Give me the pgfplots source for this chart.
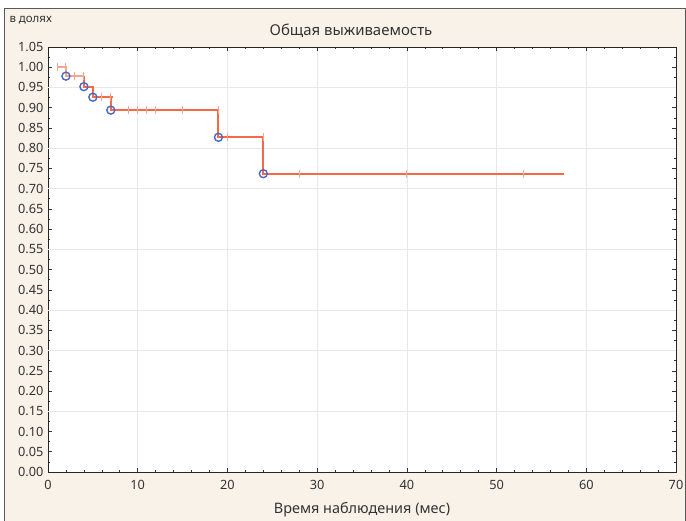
\documentclass[border=0pt]{standalone}
\usepackage{fontspec}
\setmainfont{Noto Sans}
\usepackage{pgfplots}
\pgfplotsset{compat=1.18}
\definecolor{bg}{HTML}{F8F2E9}
\definecolor{km}{HTML}{F26A47}
\definecolor{kmlight}{HTML}{F8A58C}
\definecolor{ev}{HTML}{4A68C4}
\definecolor{gridc}{HTML}{E8E8E8}
\definecolor{txt}{HTML}{333333}
\begin{document}
\begin{tikzpicture}[x=1bp,y=1bp]
\path[use as bounding box] (0,0) rectangle (686,521);
\fill[bg] (4,0) rectangle (686,513);
\draw[black!65, line width=1.2bp] (4.6,0) -- (4.6,512.4) -- (685.4,512.4) -- (685.4,0);
\node[anchor=west, text=txt, font=\fontsize{11.5}{13}\selectfont] at (6,501) {в долях};
\node[text=txt, font=\fontsize{15}{17}\selectfont] at (351,490) {Общая выживаемость};
\begin{axis}[
  at={(48bp,49bp)}, anchor=south west,
  scale only axis, width=628bp, height=425bp,
  xmin=0, xmax=70, ymin=0, ymax=1.05,
  axis background/.style={fill=white},
  xtick={0,10,20,30,40,50,60,70},
  ytick={0,0.05,0.10,0.15,0.20,0.25,0.30,0.35,0.40,0.45,0.50,0.55,0.60,0.65,0.70,0.75,0.80,0.85,0.90,0.95,1.00,1.05},
  minor x tick num=4, minor y tick num=1,
  tick align=inside,
  major tick length=4bp, minor tick length=2bp,
  tick style={black!80, line width=0.6bp},
  axis line style={black!85, line width=0.9bp},
  xmajorgrids=true,
  grid style={gridc, line width=0.6bp},
  extra y ticks={0.15,0.30,0.40,0.55,0.70,0.80,0.95},
  extra y tick labels={},
  extra y tick style={grid=major, major tick length=0pt},
  /pgf/number format/assume math mode=true,
  ticklabel style={text=txt, font=\fontsize{12.8}{14}\selectfont},
  yticklabel style={/pgf/number format/fixed, /pgf/number format/fixed zerofill, /pgf/number format/precision=2, xshift=-1bp},
  xticklabel style={/pgf/number format/fixed, /pgf/number format/precision=0, yshift=-5bp},
  xlabel={Время наблюдения (мес)},
  xlabel style={text=txt, font=\fontsize{14.5}{16}\selectfont, yshift=-6bp},
]
\addplot[kmlight, line width=2bp, const plot, forget plot] coordinates {(1,1.0)(2,0.978)(4,0.978)};
\addplot[km, line width=2bp, const plot, forget plot] coordinates {(4,0.978)(4,0.952)(5,0.926)(7,0.894)(19,0.827)(24,0.737)(57.5,0.737)};
\addplot[km, line width=2bp, forget plot] coordinates {(7,0.926)(7.3,0.926)};
\addplot[only marks, mark=|, mark size=4bp, kmlight, mark options={line width=0.9bp}, forget plot] coordinates {(1,1.0)(2,1.0)(3,0.978)(4,0.978)(6,0.926)(7,0.926)(9,0.894)(10,0.894)(11,0.894)(12,0.894)(15,0.894)(19,0.894)(20,0.827)(24,0.827)(28,0.737)(40,0.737)(53,0.737)};
\addplot[only marks, mark=o, mark size=4bp, ev, mark options={line width=1.4bp}, forget plot] coordinates {(2,0.978)(4,0.952)(5,0.926)(7,0.894)(19,0.827)(24,0.737)};
\end{axis}
\end{tikzpicture}
\end{document}
